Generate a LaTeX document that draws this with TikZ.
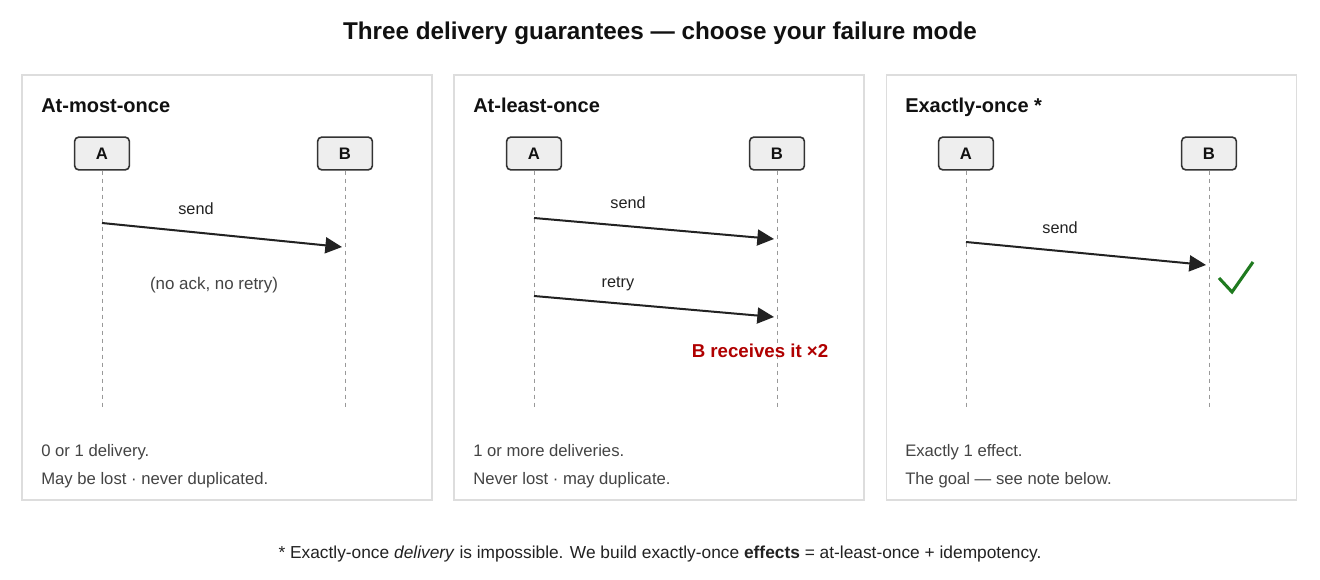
\documentclass[tikz,border=0pt]{standalone}
\usepackage{fontspec}
\setmainfont{Liberation Sans}
\usetikzlibrary{arrows.meta}
\definecolor{pborder}{HTML}{DDDDDD}
\definecolor{boxfill}{HTML}{EEEEEE}
\definecolor{boxdraw}{HTML}{333333}
\definecolor{ink}{HTML}{111111}
\definecolor{txt}{HTML}{444444}
\definecolor{lbl}{HTML}{222222}
\definecolor{life}{HTML}{999999}
\definecolor{dupred}{HTML}{B00000}
\definecolor{okgreen}{HTML}{1F7A1F}
\tikzset{
  panel/.style={draw=pborder, line width=1.1pt, fill=white, minimum width=307.5pt, minimum height=318.75pt, inner sep=0pt},
  actor/.style={draw=boxdraw, fill=boxfill, line width=1.2pt, rounded corners=3pt, minimum width=41pt, minimum height=24.5pt, inner sep=0pt, font=\bfseries\fontsize{12.5}{14}\selectfont, text=ink},
  lifeline/.style={draw=life, line width=0.75pt, dash pattern=on 3pt off 3pt},
  msg/.style={draw=lbl, line width=1.5pt, -{Triangle[length=12.5pt,width=12pt]}},
  ptitle/.style={anchor=base west, font=\bfseries\fontsize{15}{18}\selectfont, text=ink, inner sep=0pt},
  mlabel/.style={font=\fontsize{12.2}{14}\selectfont, text=lbl, inner sep=0pt, anchor=base},
  foot/.style={anchor=base west, font=\fontsize{12.5}{14}\selectfont, text=txt, inner sep=0pt},
}
\begin{document}
\begin{tikzpicture}[x=0.75pt,y=-0.75pt]
\useasboundingbox (0,0) rectangle (1320,580);
\fill[white] (0,0) rectangle (1320,580);

\node[font=\bfseries\fontsize{18.2}{22}\selectfont, text=ink, anchor=base, inner sep=0pt] (title) at (660,40) {Three delivery guarantees — choose your failure mode};

% panels
\node[panel] (p1) at (227,287.5) {};
\node[panel] (p2) at (659,287.5) {};
\node[panel] (p3) at (1091.5,287.5) {};

% ---------- panel 1
\node[ptitle] (t1) at (41,113) {At-most-once};
\node[actor] (a1) at (102,153.5) {A};
\node[actor] (b1) at (345,153.5) {B};
\coordinate (a1e) at (102,408);
\coordinate (b1e) at (345,408);
\draw[lifeline] (a1) -- (a1e);
\draw[lifeline] (b1) -- (b1e);
\coordinate (s1) at (102,223);
\coordinate (e1) at (342,247);
\draw[msg] (s1) -- (e1);
\node[mlabel] (l1) at (196,215) {send};
\node[mlabel, text=txt, font=\fontsize{12.7}{14}\selectfont] (n1) at (214,290) {(no ack, no retry)};
\node[foot] (f1a) at (41,457) {0 or 1 delivery.};
\node[foot] (f1b) at (41,484) {May be lost · never duplicated.};

% ---------- panel 2
\node[ptitle] (t2) at (473,113) {At-least-once};
\node[actor] (a2) at (534,153.5) {A};
\node[actor] (b2) at (777,153.5) {B};
\coordinate (a2e) at (534,408);
\coordinate (b2e) at (777,408);
\draw[lifeline] (a2) -- (a2e);
\draw[lifeline] (b2) -- (b2e);
\coordinate (s2) at (534,218);
\coordinate (e2) at (774,239);
\draw[msg] (s2) -- (e2);
\node[mlabel] (l2) at (628,209) {send};
\coordinate (s3) at (534,296);
\coordinate (e3) at (774,317);
\draw[msg] (s3) -- (e3);
\node[mlabel] (l3) at (618,288) {retry};
\node[font=\bfseries\fontsize{14}{16}\selectfont, text=dupred, anchor=base, inner sep=0pt] (dup) at (760,358) {B receives it ×2};
\node[foot] (f2a) at (473,457) {1 or more deliveries.};
\node[foot] (f2b) at (473,484) {Never lost · may duplicate.};

% ---------- panel 3
\node[ptitle] (t3) at (905,113) {Exactly-once *};
\node[actor] (a3) at (966,153.5) {A};
\node[actor] (b3) at (1209,153.5) {B};
\coordinate (a3e) at (966,408);
\coordinate (b3e) at (1209,408);
\draw[lifeline] (a3) -- (a3e);
\draw[lifeline] (b3) -- (b3e);
\coordinate (s4) at (966,242);
\coordinate (e4) at (1206,265);
\draw[msg] (s4) -- (e4);
\node[mlabel] (l4) at (1060,234) {send};
\coordinate (c1) at (1219,278);
\coordinate (c2) at (1232,292);
\coordinate (c3) at (1253,262);
\draw[okgreen, line width=2.3pt] (c1) -- (c2) -- (c3);
\node[foot] (f3a) at (905,457) {Exactly 1 effect.};
\node[foot] (f3b) at (905,484) {The goal — see note below.};

% footnote
\node[font=\fontsize{13}{15}\selectfont, text=lbl, anchor=base, inner sep=0pt] (note) at (660,558) {* Exactly-once \textit{delivery} is impossible. We build exactly-once \textbf{effects} = at-least-once + idempotency.};
\end{tikzpicture}
\end{document}
